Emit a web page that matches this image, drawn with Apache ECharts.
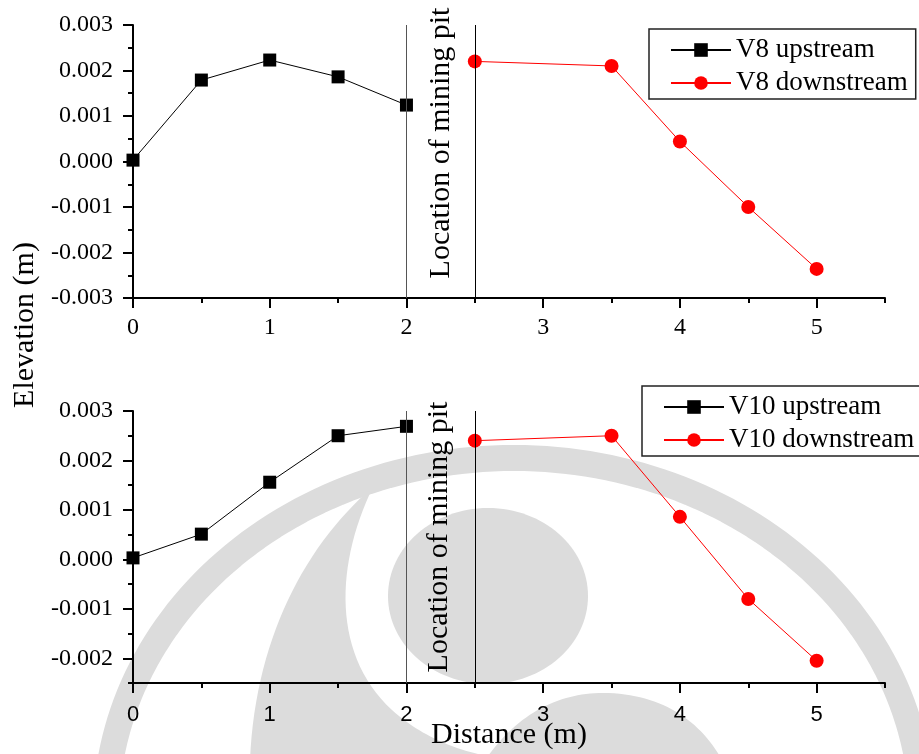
<!DOCTYPE html>
<html>
<head>
<meta charset="utf-8">
<script src="https://cdn.jsdelivr.net/npm/echarts@6/dist/echarts.min.js"></script>
<style>
  html, body { margin: 0; padding: 0; background: #fff; }
  #chart { width: 919px; height: 754px; }
</style>
</head>
<body>
<div id="chart"></div>
<script>
// Distances along the profile (m)
const distUp = [0, 0.5, 1, 1.5, 2];
const distDown = [2.5, 3.5, 4, 4.5, 5];

// Elevation change (m) for profile V8
const v8Up = [0.00003, 0.00179, 0.00223, 0.00186, 0.00124];
const v8Down = [0.00220, 0.00210, 0.00044, -0.00100, -0.00236];

// Elevation change (m) for profile V10
const v10Up = [0.00003, 0.00051, 0.00156, 0.00250, 0.00269];
const v10Down = [0.00240, 0.00250, 0.00086, -0.00080, -0.00205];

// Pit boundaries (m)
const pitEdges = [2, 2.5];

// Axis ticks
const xMajor = [0, 1, 2, 3, 4, 5];
const xMinor = [0.5, 1.5, 2.5, 3.5, 4.5, 5.5];
const yTopMajor = [-0.003, -0.002, -0.001, 0, 0.001, 0.002, 0.003];
const yTopMinor = [-0.0025, -0.0015, -0.0005, 0.0005, 0.0015, 0.0025];
const yBotMajor = [-0.002, -0.001, 0, 0.001, 0.002, 0.003];
const yBotMinor = [-0.0025, -0.0015, -0.0005, 0.0005, 0.0015, 0.0025];

const SERIF = '"Liberation Serif", "Times New Roman", serif';
const SANS = '"Liberation Sans", Arial, sans-serif';

const chart = echarts.init(document.getElementById('chart'), null, { renderer: 'canvas' });

function zip(xs, ys) { return xs.map((x, i) => [x, ys[i]]); }

function xAxesFor(gridIndex, font, size, margin) {
  return [
    {
      type: 'value', gridIndex, min: 0, max: 5.5, position: 'bottom',
      axisLine: { show: true, onZero: false, lineStyle: { color: '#000', width: 2 } },
      axisTick: { show: true, customValues: xMajor, length: 10, inside: false, lineStyle: { color: '#000', width: 2 } },
      axisLabel: { show: true, customValues: xMajor, fontFamily: font, fontSize: size, color: '#000', margin },
      splitLine: { show: false }
    },
    {
      type: 'value', gridIndex, min: 0, max: 5.5, position: 'bottom',
      axisLine: { show: false, onZero: false },
      axisTick: { show: true, customValues: xMinor, length: 5, inside: false, lineStyle: { color: '#000', width: 2 } },
      axisLabel: { show: false },
      splitLine: { show: false }
    }
  ];
}

function yAxesFor(gridIndex, min, max, major, minor) {
  return [
    {
      type: 'value', gridIndex, min, max, position: 'left',
      axisLine: { show: true, onZero: false, lineStyle: { color: '#000', width: 2 } },
      axisTick: { show: true, customValues: major, length: 10, inside: false, lineStyle: { color: '#000', width: 2 } },
      axisLabel: {
        show: true, customValues: major, fontFamily: SERIF, fontSize: 24, color: '#000', margin: 20,
        formatter: v => v.toFixed(3)
      },
      splitLine: { show: false }
    },
    {
      type: 'value', gridIndex, min, max, position: 'left',
      axisLine: { show: false, onZero: false },
      axisTick: { show: true, customValues: minor, length: 5, inside: false, lineStyle: { color: '#000', width: 2 } },
      axisLabel: { show: false },
      splitLine: { show: false }
    }
  ];
}

function pitLine(x, color) {
  return {
    silent: true, symbol: 'none', animation: false,
    label: { show: false },
    lineStyle: { color, width: 1, type: 'solid' },
    emphasis: { disabled: true },
    data: [{ xAxis: x }]
  };
}

function upSeries(name, xi, yi, data, edge) {
  return {
    name, type: 'line', xAxisIndex: xi, yAxisIndex: yi,
    data: zip(distUp, data),
    symbol: 'rect', symbolSize: 13,
    lineStyle: { color: '#000', width: 1 },
    itemStyle: { color: '#000', borderWidth: 0 },
    markLine: pitLine(edge, '#555'),
    z: 3
  };
}

function downSeries(name, xi, yi, data, edge) {
  return {
    name, type: 'line', xAxisIndex: xi, yAxisIndex: yi,
    data: zip(distDown, data),
    symbol: 'circle', symbolSize: 14,
    lineStyle: { color: '#ff0000', width: 1 },
    itemStyle: { color: '#ff0000', borderWidth: 0 },
    markLine: pitLine(edge, '#000'),
    z: 3
  };
}

function legendFor(names, top, left, padRight) {
  return {
    data: names, orient: 'vertical', left, top,
    itemWidth: 60, itemHeight: 17, itemGap: 5,
    padding: [7, padRight, 2, 21],
    borderColor: '#222', borderWidth: 1.5, backgroundColor: 'transparent',
    textStyle: { fontFamily: SERIF, fontSize: 27, color: '#000', lineHeight: 28 },
    selectedMode: false
  };
}

// Background emblem: ring, crescent and pupil drawn in light grey
function cubic(p0, p1, p2, p3, n) {
  const pts = [];
  for (let i = 1; i <= n; i++) {
    const t = i / n, u = 1 - t;
    pts.push([
      u*u*u*p0[0] + 3*u*u*t*p1[0] + 3*u*t*t*p2[0] + t*t*t*p3[0],
      u*u*u*p0[1] + 3*u*u*t*p1[1] + 3*u*t*t*p2[1] + t*t*t*p3[1]
    ]);
  }
  return pts;
}
function crescentPoints() {
  const segs = [
    [[250, 760], [255, 640], [305, 545], [373, 487]],
    [[373, 487], [335, 565], [332, 655], [392, 710]],
    [[392, 710], [425, 740], [465, 752], [488, 756]],
    [[488, 756], [520, 712], [560, 693], [603, 693]],
    [[603, 693], [660, 693], [700, 720], [722, 760]]
  ];
  let pts = [[250, 760]];
  segs.forEach(s => { pts = pts.concat(cubic(s[0], s[1], s[2], s[3], 30)); });
  return pts;
}
function ringPoints() {
  const pts = [];
  for (let i = 0; i <= 240; i++) {
    const a = (i / 240) * Math.PI * 2;
    pts.push([514 + 408 * Math.cos(a), 813 + 355 * Math.sin(a)]);
  }
  return pts;
}
const EMBLEM = '#dcdcdc';

const option = {
  animation: false,
  backgroundColor: '#fff',
  grid: [
    { left: 133, top: 25, width: 752, height: 273, containLabel: false },
    { left: 133, top: 411, width: 752, height: 272, containLabel: false }
  ],
  xAxis: [
    ...xAxesFor(0, SERIF, 24, 18),
    ...xAxesFor(1, SANS, 22, 21)
  ],
  yAxis: [
    ...yAxesFor(0, -0.003, 0.003, yTopMajor, yTopMinor),
    ...yAxesFor(1, -0.0025, 0.003, yBotMajor, yBotMinor)
  ],
  legend: [
    legendFor(['V8 upstream', 'V8 downstream'], 29, 649, 8),
    legendFor(['V10 upstream', 'V10 downstream'], 386, 642, 12)
  ],
  series: [
    upSeries('V8 upstream', 0, 0, v8Up, pitEdges[0]),
    downSeries('V8 downstream', 0, 0, v8Down, pitEdges[1]),
    upSeries('V10 upstream', 2, 2, v10Up, pitEdges[0]),
    downSeries('V10 downstream', 2, 2, v10Down, pitEdges[1])
  ],
  graphic: [
    { type: 'polygon', z: -5, silent: true, shape: { points: crescentPoints() }, style: { fill: EMBLEM } },
    { type: 'ellipse', z: -5, silent: true, shape: { cx: 488, cy: 596, rx: 100, ry: 88 }, style: { fill: EMBLEM } },
    { type: 'polyline', z: -5, silent: true, shape: { points: ringPoints() }, style: { stroke: EMBLEM, lineWidth: 26, fill: null } },
    {
      type: 'text', z: 10, x: 441, y: 143, rotation: Math.PI / 2, silent: true,
      style: { text: 'Location of mining pit', font: '30px ' + SERIF, fill: '#000',
               align: 'center', verticalAlign: 'middle', textAlign: 'center', textVerticalAlign: 'middle' }
    },
    {
      type: 'text', z: 10, x: 439, y: 537, rotation: Math.PI / 2, silent: true,
      style: { text: 'Location of mining pit', font: '30px ' + SERIF, fill: '#000',
               align: 'center', verticalAlign: 'middle', textAlign: 'center', textVerticalAlign: 'middle' }
    },
    {
      type: 'text', z: 10, x: 25, y: 325, rotation: Math.PI / 2, silent: true,
      style: { text: 'Elevation (m)', font: '30px ' + SERIF, fill: '#000',
               align: 'center', verticalAlign: 'middle', textAlign: 'center', textVerticalAlign: 'middle' }
    },
    {
      type: 'text', z: 10, x: 509, y: 735, silent: true,
      style: { text: 'Distance (m)', font: '30px ' + SERIF, fill: '#000',
               align: 'center', verticalAlign: 'middle', textAlign: 'center', textVerticalAlign: 'middle' }
    }
  ]
};

chart.setOption(option);
</script>
</body>
</html>
